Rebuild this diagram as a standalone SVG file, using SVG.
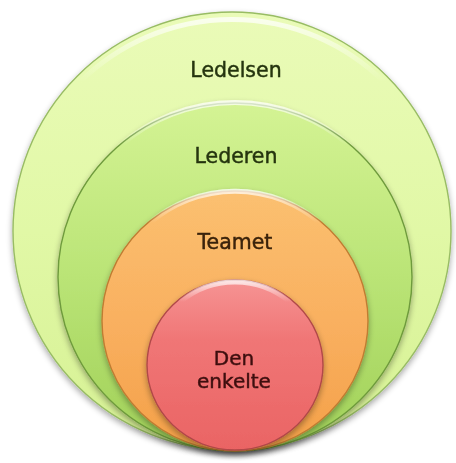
<svg xmlns="http://www.w3.org/2000/svg" width="456" height="463" viewBox="0 0 456 463">
  <defs>
    <filter id="shadow" x="-20%" y="-20%" width="140%" height="140%">
      <feGaussianBlur in="SourceAlpha" stdDeviation="3"/>
      <feOffset dx="0" dy="3" result="b"/>
      <feComponentTransfer><feFuncA type="linear" slope="0.35"/></feComponentTransfer>
      <feMerge><feMergeNode/><feMergeNode in="SourceGraphic"/></feMerge>
    </filter>
    <linearGradient id="g1" x1="0" y1="0" x2="0" y2="1">
      <stop offset="0" stop-color="#eafbb8"/>
      <stop offset="0.5" stop-color="#e1f8a6"/>
      <stop offset="1" stop-color="#d6f194"/>
    </linearGradient>
    <linearGradient id="g2" x1="0" y1="0" x2="0" y2="1">
      <stop offset="0" stop-color="#d4f394"/>
      <stop offset="0.5" stop-color="#bae476"/>
      <stop offset="1" stop-color="#a0d058"/>
    </linearGradient>
    <linearGradient id="g3" x1="0" y1="0" x2="0" y2="1">
      <stop offset="0" stop-color="#fbc070"/>
      <stop offset="0.5" stop-color="#f9b060"/>
      <stop offset="1" stop-color="#f4a048"/>
    </linearGradient>
    <linearGradient id="g4" x1="0" y1="0" x2="0" y2="1">
      <stop offset="0" stop-color="#f69494"/>
      <stop offset="0.35" stop-color="#f07676"/>
      <stop offset="1" stop-color="#ea6464"/>
    </linearGradient>
    <linearGradient id="hl" x1="0" y1="0" x2="0" y2="1">
      <stop offset="0" stop-color="#ffffff" stop-opacity="0.75"/>
      <stop offset="1" stop-color="#ffffff" stop-opacity="0"/>
    </linearGradient>
  </defs>
  <style>
    .lbl { font-family: "DejaVu Sans", Verdana, sans-serif; font-size: 20.5px; text-anchor: middle; stroke-width: 0.45; }
    .green { fill: #25340f; stroke: #25340f; }
    .orange { fill: #3a2208; stroke: #3a2208; }
    .red { fill: #3e1010; stroke: #3e1010; }
    .small { font-size: 20px; }
    .hl { fill: none; stroke: url(#hl); stroke-width: 5; stroke-linecap: round; }
  </style>
  <rect width="456" height="463" fill="#ffffff"/>
  <g id="ledelsen" filter="url(#shadow)">
    <ellipse cx="232" cy="231" rx="219" ry="219" fill="url(#g1)" stroke="#98bc64" stroke-width="1.4"/>
    <path class="hl" d="M 80 82 A 216 216 0 0 1 384 82"/>
    <text class="lbl green" x="236" y="77">Ledelsen</text>
  </g>
  <g id="lederen" filter="url(#shadow)">
    <ellipse cx="235" cy="277" rx="177" ry="174" fill="url(#g2)" stroke="#6e9a3c" stroke-width="1.4"/>
    <path class="hl" d="M 120 146 A 172 170 0 0 1 350 146"/>
    <text class="lbl green" x="236" y="163">Lederen</text>
  </g>
  <g id="teamet" filter="url(#shadow)">
    <ellipse cx="235" cy="321" rx="133" ry="130" fill="url(#g3)" stroke="#c07c32" stroke-width="1.4"/>
    <path class="hl" d="M 150 223 A 128 126 0 0 1 320 223"/>
    <text class="lbl orange" x="235" y="249">Teamet</text>
  </g>
  <g id="den-enkelte" filter="url(#shadow)">
    <ellipse cx="235" cy="365" rx="88" ry="85" fill="url(#g4)" stroke="#b04848" stroke-width="1.4"/>
    <path class="hl" d="M 180 302 A 84 82 0 0 1 290 302"/>
    <text class="lbl red small" x="234" y="365">Den</text>
    <text class="lbl red small" x="234" y="388">enkelte</text>
  </g>
</svg>
